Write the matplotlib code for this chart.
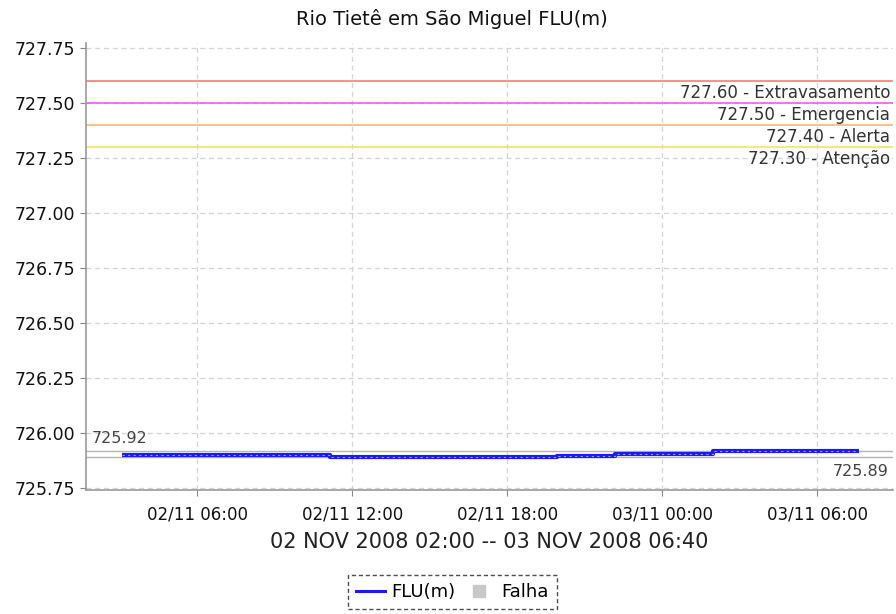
import matplotlib
matplotlib.use("Agg")
import matplotlib.pyplot as plt
import matplotlib.dates as mdates
from matplotlib.lines import Line2D
import pandas as pd

# ---- data ----
title = "Rio Tietê em São Miguel FLU(m)"
xlabel = "02 NOV 2008 02:00 -- 03 NOV 2008 06:40"
series_name = "FLU(m)"
fail_name = "Falha"

times = ["2008-11-02 03:06", "2008-11-02 11:09", "2008-11-02 19:56",
         "2008-11-02 22:11", "2008-11-03 01:59", "2008-11-03 07:36"]
values = [725.900, 725.890, 725.897, 725.905, 725.920, 725.920]

max_value = 725.92
min_value = 725.89

threshold_values = [727.60, 727.50, 727.40, 727.30]
threshold_names = ["Extravasamento", "Emergencia", "Alerta", "Atenção"]
threshold_colors = ["#ff7070", "#ee55ee", "#ffb060", "#f4e060"]

y_ticks = [725.75, 726.00, 726.25, 726.50, 726.75, 727.00, 727.25, 727.50, 727.75]
x_ticks = ["2008-11-02 06:00", "2008-11-02 12:00", "2008-11-02 18:00",
           "2008-11-03 00:00", "2008-11-03 06:00"]
x_range = ["2008-11-02 01:42", "2008-11-03 08:56"]
y_range = [725.741, 727.773]

# ---- plot ----
fig = plt.figure(figsize=(8.96, 6.14), dpi=100)
ax = fig.add_axes([86/896, 1-490/614, (893-86)/896, (490-43)/614])

t = pd.to_datetime(times)
tx = pd.to_datetime(x_ticks)
xr = pd.to_datetime(x_range)

ax.set_xlim(xr[0], xr[1])
ax.set_ylim(*y_range)

# grid
ax.set_yticks(y_ticks)
ax.set_yticklabels([f"{v:.2f}" for v in y_ticks])
ax.set_xticks(tx)
ax.xaxis.set_major_formatter(mdates.DateFormatter("%d/%m %H:%M"))
ax.grid(True, color="#d4d4d4", linestyle=(0, (4, 3)), linewidth=0.9)
ax.set_axisbelow(True)

# thresholds
for v, n, c in zip(threshold_values, threshold_names, threshold_colors):
    ax.axhline(v, color=c, lw=1.1, zorder=2)
    ax.annotate(f"{v:.2f} - {n}", xy=(1, v), xycoords=("axes fraction", "data"),
                xytext=(-2, -2), textcoords="offset points", ha="right", va="top",
                fontsize=12, color="#333333")

# max / min lines
ax.axhline(max_value, color="#b4b4b4", lw=1, zorder=2)
ax.axhline(min_value, color="#b4b4b4", lw=1, zorder=2)
ax.annotate(f"{max_value:.2f}", xy=(0, max_value), xycoords=("axes fraction", "data"),
            xytext=(4, 3), textcoords="offset points", ha="left", va="bottom",
            fontsize=11.5, color="#444444")
ax.annotate(f"{min_value:.2f}", xy=(1, min_value), xycoords=("axes fraction", "data"),
            xytext=(-3, -5), textcoords="offset points", ha="right", va="top",
            fontsize=11.5, color="#444444")

# data series
ax.plot(t, values, drawstyle="steps-post", color="#1a1aff", lw=3, zorder=4,
        solid_capstyle="butt")
ax.plot(t, values, drawstyle="steps-post", color="#9a9aff", lw=0.8, zorder=5,
        linestyle=(0, (2, 3)))

# axes style
for s in ["top", "right"]:
    ax.spines[s].set_visible(False)
for s in ["left", "bottom"]:
    ax.spines[s].set_color("#999999")
    ax.spines[s].set_linewidth(1.2)
ax.tick_params(axis="both", direction="out", length=4, color="#888888",
               labelsize=12.5, labelcolor="#111111")
ax.tick_params(axis="x", pad=7, labelsize=12)

fig.text(452/896, 1-19/614, title, fontsize=14, color="#111111",
         ha="center", va="center")
ax.set_xlabel(xlabel, fontsize=15, color="#222222", labelpad=6)

handles = [Line2D([0], [0], color="#1a1aff", lw=2.2),
           Line2D([0], [0], marker="s", color="none", markerfacecolor="#c8c8c8",
                  markeredgecolor="#c8c8c8", markersize=8)]
leg = fig.legend(handles, [series_name, fail_name], loc="center",
                 bbox_to_anchor=(452/896, 1-592/614), ncol=2, frameon=True,
                 fancybox=False, fontsize=13, handlelength=1.6, handletextpad=0.4,
                 columnspacing=0.5, borderpad=0.45, borderaxespad=0)
leg.get_frame().set_edgecolor("#222222")
leg.get_frame().set_linestyle((0, (3, 2)))
leg.get_frame().set_linewidth(1)

fig.savefig("out.png", dpi=100)
